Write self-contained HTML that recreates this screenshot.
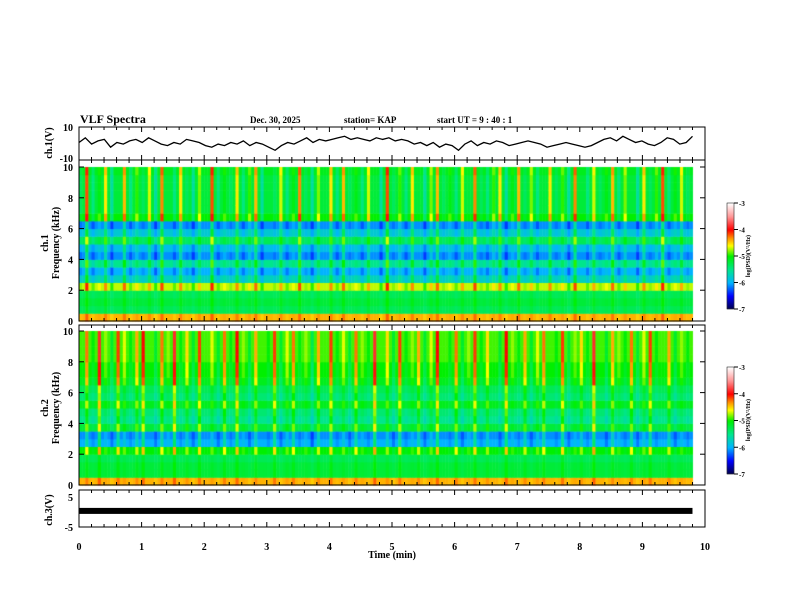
<!DOCTYPE html>
<html><head><meta charset="utf-8"><style>
body{margin:0;background:#fff;width:792px;height:612px;overflow:hidden;font-family:"Liberation Serif",serif}
#c{position:absolute;left:0;top:0}
svg{position:absolute;left:0;top:0}
text{font-family:"Liberation Serif",serif;font-weight:bold;fill:#000}
</style></head><body>
<canvas id="c" width="792" height="612"></canvas>
<svg id="s" width="792" height="612"></svg>
<script>
const timeTicks=[0,1,2,3,4,5,6,7,8,9,10];
const freqTicks=[0,2,4,6,8,10];
const cbTicks=[-3,-4,-5,-6,-7];
const ch1Trace=[0,3,-1,1,2,-3,0,-1,1,2,0,3,1,-1,-2,0,-1,2,1,0,-2,-3,-1,-2,0,-1,1,-2,0,-1,-3,-5,-2,0,-1,1,3,0,2,1,2,3,4,2,3,2,1,3,2,3,1,2,1,-1,0,-2,0,-3,-1,-2,-5,-1,1,-2,0,-1,1,0,-2,-1,0,1,0,-1,-3,-2,-1,0,-1,-2,-3,-2,0,2,3,1,4,2,0,1,-1,-2,0,3,2,-1,0,4];
const ch1Profile=[-4.4,-5.3,-5.2,-5.3,-4.7,-5.7,-6.0,-5.5,-6.1,-5.9,-5.3,-5.8,-6.1,-5.0,-5.2,-5.2,-5.2,-5.2,-5.2,-5.1];
const ch2Profile=[-4.4,-5.2,-5.2,-5.3,-5.0,-6.0,-6.1,-5.2,-5.5,-5.4,-5.1,-5.4,-5.3,-5.1,-5.0,-5.0,-4.9,-4.9,-4.9,-4.9];
const ch1Burst=[0.3,1.2,0.2,0.5,0.9,0.1,0.4,1.0,0.2,0.6,0.3,0.8,0.1,1.1,0.4,0.2,0.9,0.3,0.1,0.7,0.4,1.2,0.2,0.5,0.3,0.9,0.2,0.6,1.0,0.1,0.4,0.3,0.8,0.2,0.5,1.1,0.3,0.1,0.7,0.4,0.9,0.2,1.0,0.3,0.5,0.2,0.8,0.4,0.1,1.2,0.3,0.6,0.2,0.9,0.4,0.1,0.7,1.0,0.3,0.5,0.2,0.8,0.4,1.1,0.3,0.2,0.6,0.9,0.1,0.5,1.0,0.3,0.7,0.2,0.4,0.9,0.3,0.6,0.1,1.1,0.4,0.2,0.8,0.3,0.5,1.0,0.2,0.7,0.4,0.1,0.9,0.3,0.6,1.2,0.2,0.5,0.8,0.3];
const ch2Burst=[0.4,0.9,0.3,1.2,0.5,0.2,1.0,0.6,0.3,0.8,1.1,0.4,0.2,0.9,0.5,1.2,0.3,0.7,0.2,1.0,0.4,0.6,0.2,0.9,0.3,1.1,0.5,0.2,0.8,0.4,0.3,1.0,0.2,0.6,0.9,0.3,0.5,0.1,0.8,0.4,1.0,0.3,0.6,0.2,0.9,0.5,0.3,1.2,0.4,0.7,0.2,1.0,0.3,0.5,0.8,0.2,0.6,1.1,0.4,0.3,0.9,0.2,0.5,1.0,0.3,0.7,0.4,0.2,1.1,0.5,0.3,0.8,0.2,0.6,0.9,0.4,0.3,1.0,0.2,0.5,0.7,0.3,1.2,0.4,0.2,0.8,0.5,0.3,0.9,0.2,0.6,1.0,0.3,0.4,0.8,0.2,0.5,0.3];
const ch3Level=-0.8;

const X0=79,X1=705;
const xs=t=>X0+(X1-X0)*t/10;
const ctx=document.getElementById('c').getContext('2d');
const stops=[[-7,0,0,70],[-6.5,0,0,255],[-6,0,180,255],[-5.5,0,230,140],[-5,0,240,0],[-4.6,255,255,0],[-4.3,255,140,0],[-4,255,0,0],[-3.5,255,150,150],[-3,255,255,255]];
function cmap(v){v=Math.max(-7,Math.min(-3,v));for(let i=1;i<stops.length;i++){if(v<=stops[i][0]){const a=stops[i-1],b=stops[i],f=(v-a[0])/(b[0]-a[0]);return `rgb(${a.map((x,k)=>k?Math.round(x+(b[k]-x)*f):0).slice(1).join(',')})`}}return 'white'}
function spec(prof,burst,yTop,yBot){
  const n=burst.length,cw=(xs(9.8)-X0)/n,rh=(yBot-yTop)/prof.length;
  for(let c=0;c<n;c++)for(let r=0;r<prof.length;r++){
    const w=r>=13?1.3:(r>=4?0.8:0.25);
    const y=yBot-(r+1)*rh;
    ctx.fillStyle=cmap(prof[r]+(burst[c]-0.4)*w);
    ctx.fillRect(X0+c*cw,y,cw/2+0.5,rh+0.5);
    ctx.fillStyle=cmap(prof[r]);
    ctx.fillRect(X0+c*cw+cw/2,y,cw/2+0.5,rh+0.5);
  }
}
spec(ch1Profile,ch1Burst,167,321);
spec(ch2Profile,ch2Burst,331,485);
function cbar(y0,y1){for(let y=y0;y<y1;y++){ctx.fillStyle=cmap(-3-4*(y-y0)/(y1-y0));ctx.fillRect(727,y,7,1);}}
cbar(203,309);cbar(367,474);

const S=document.getElementById('s');const NS='http://www.w3.org/2000/svg';
function el(tag,at,txt){const e=document.createElementNS(NS,tag);for(const k in at)e.setAttribute(k,at[k]);if(txt!==undefined)e.textContent=txt;S.appendChild(e);return e;}
function frame(y0,y1,name){const r=el('rect',{x:X0,y:y0,width:X1-X0,height:y1-y0,fill:'none',stroke:'#000','stroke-width':1});


for(let t=0;t<=10;t+=0.2){const x=xs(t),L=Math.abs(t-Math.round(t))<0.01?5:3;el('line',{x1:x,x2:x,y1:y0,y2:y0+L,stroke:'#000'});el('line',{x1:x,x2:x,y1:y1,y2:y1-L,stroke:'#000'});}}
frame(127,160,'ch1-panel');frame(160,321,'ch1-spectrogram-panel');frame(325,485,'ch2-spectrogram-panel');frame(490,527,'ch3-panel');
const ys1=v=>142.5-v*1.55;
let d='';ch1Trace.forEach((v,i)=>{d+=(i?'L':'M')+(X0+i*(xs(9.8)-X0)/(ch1Trace.length-1)).toFixed(1)+','+ys1(v).toFixed(1)});
const p=el('path',{d,fill:'none',stroke:'#000','stroke-width':1.3});


const b=el('rect',{x:X0,y:508.5-ch3Level*3-3,width:xs(9.8)-X0,height:6,fill:'#000'});


[[167,321],[331,485]].forEach(([a,bb])=>{freqTicks.forEach(f=>{const y=bb-(bb-a)*f/10;el('text',{x:73,y:y+4,'font-size':10,'text-anchor':'end'},f);el('line',{x1:X0,x2:X0+5,y1:y,y2:y,stroke:'#000'});el('line',{x1:X1,x2:X1-5,y1:y,y2:y,stroke:'#000'});});});
el('text',{x:73,y:131,'font-size':10,'text-anchor':'end'},'10');el('text',{x:73,y:162,'font-size':10,'text-anchor':'end'},'-10');
el('text',{x:73,y:501,'font-size':10,'text-anchor':'end'},'5');el('text',{x:73,y:531,'font-size':10,'text-anchor':'end'},'-5');
timeTicks.forEach(t=>{const tt=el('text',{x:xs(t),y:550,'font-size':10,'text-anchor':'middle'},t);});
el('text',{x:392,y:558,'font-size':10,'text-anchor':'middle'},'Time  (min)');
el('text',{x:80,y:123,'font-size':12},'VLF  Spectra');
el('text',{x:250,y:123,'font-size':9},'Dec. 30, 2025');
el('text',{x:344,y:123,'font-size':9},'station= KAP');
el('text',{x:437,y:123,'font-size':9},'start  UT  =   9  : 40 : 1');
el('text',{x:0,y:0,'font-size':10,'text-anchor':'middle',transform:'translate(52,143) rotate(-90)'},'ch.1(V)');
el('text',{x:0,y:0,'font-size':10,'text-anchor':'middle',transform:'translate(48,243) rotate(-90)'},'ch.1');
el('text',{x:0,y:0,'font-size':10,'text-anchor':'middle',transform:'translate(59,243) rotate(-90)'},'Frequency  (kHz)');
el('text',{x:0,y:0,'font-size':10,'text-anchor':'middle',transform:'translate(48,408) rotate(-90)'},'ch.2');
el('text',{x:0,y:0,'font-size':10,'text-anchor':'middle',transform:'translate(59,408) rotate(-90)'},'Frequency  (kHz)');
el('text',{x:0,y:0,'font-size':10,'text-anchor':'middle',transform:'translate(52,510) rotate(-90)'},'ch.3(V)');
[[203,309,256],[367,474,420]].forEach(([a,bb,m])=>{el('rect',{x:727,y:a,width:7,height:bb-a,fill:'none',stroke:'#000','stroke-width':0.5});cbTicks.forEach((v,i)=>{const y=a+(bb-a)*i/4;el('line',{x1:734,x2:738,y1:y,y2:y,stroke:'#000'});el('text',{x:739,y:y+3,'font-size':7},v);});el('text',{x:0,y:0,'font-size':6,'text-anchor':'middle',transform:`translate(750,${m}) rotate(-90)`},'log(PSD)(V²/Hz)');});
</script>
</body></html>
